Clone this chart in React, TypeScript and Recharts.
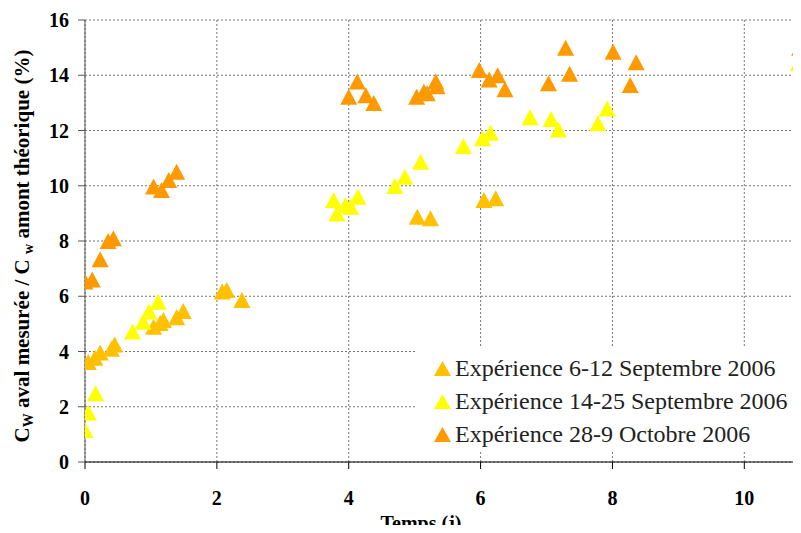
import {
  ScatterChart, Scatter, XAxis, YAxis, CartesianGrid, Legend,
} from "recharts";

// Expérience 6-12 Septembre 2006
const sept6Days = [0.05, 0.15, 0.23, 0.4, 0.45, 1.04, 1.14, 1.19, 1.39, 1.49, 2.08, 2.15, 2.38, 5.04, 5.24, 6.05, 6.23];
const sept6Ratio = [3.62, 3.77, 3.96, 4.1, 4.25, 4.9, 5.03, 5.14, 5.24, 5.47, 6.17, 6.23, 5.86, 8.88, 8.82, 9.48, 9.55];

// Expérience 14-25 Septembre 2006
const sept14Days = [0, 0.05, 0.16, 0.72, 0.88, 0.97, 1.11, 3.77, 3.82, 3.95, 4.03, 4.14, 4.7, 4.85, 5.09, 5.74, 6.03, 6.15, 6.75, 7.07, 7.18, 7.78, 7.92, 10.82];
const sept14Ratio = [1.16, 1.79, 2.49, 4.72, 5.08, 5.45, 5.8, 9.48, 9.0, 9.3, 9.24, 9.6, 9.99, 10.33, 10.87, 11.44, 11.72, 11.92, 12.48, 12.42, 12.04, 12.26, 12.8, 14.43];

// Expérience 28-9 Octobre 2006
const oct28Days = [0, 0.11, 0.23, 0.35, 0.43, 1.04, 1.16, 1.27, 1.39, 4.0, 4.13, 4.26, 4.38, 5.03, 5.14, 5.19, 5.32, 5.34, 5.98, 6.13, 6.26, 6.37, 7.03, 7.29, 7.35, 8.01, 8.27, 8.36, 10.84];
const oct28Ratio = [6.53, 6.61, 7.34, 8.0, 8.1, 9.97, 9.85, 10.21, 10.51, 13.22, 13.77, 13.28, 13.0, 13.22, 13.4, 13.35, 13.77, 13.6, 14.19, 13.85, 14.0, 13.49, 13.71, 15.0, 14.05, 14.85, 13.65, 14.47, 15.0];

const xTicks = [0, 2, 4, 6, 8, 10];
const yTicks = [0, 2, 4, 6, 8, 10, 12, 14, 16];

const zip = (xs: number[], ys: number[]) => xs.map((t, i) => ({ t, v: ys[i] }));

const series = [
  { name: "Expérience 6-12 Septembre 2006", color: "#FFC000", data: zip(sept6Days, sept6Ratio) },
  { name: "Expérience 14-25 Septembre 2006", color: "#FFFF00", data: zip(sept14Days, sept14Ratio) },
  { name: "Expérience 28-9 Octobre 2006", color: "#FF9900", data: zip(oct28Days, oct28Ratio) },
];

const serif = "'Liberation Serif', 'Times New Roman', serif";
const boldSerif = { fontFamily: serif, fontWeight: 700, fontSize: 20 };
const tickStyle = { fill: "#000", style: boldSerif };

const triangle = (color: string) => (p: any) => (
  <polygon
    points={`${p.cx},${p.cy - 8} ${p.cx + 8.5},${p.cy + 8} ${p.cx - 8.5},${p.cy + 8}`}
    fill={color}
  />
);

const YTitle = () => (
  <text
    transform="rotate(-90)"
    x={-246}
    y={29}
    textAnchor="middle"
    fill="#000"
    style={{ ...boldSerif, fontSize: 21 }}
  >
    <tspan>C</tspan>
    <tspan style={{ fontSize: 14 }} dy={4}>W</tspan>
    <tspan dy={-4}> aval mesurée / C </tspan>
    <tspan style={{ fontSize: 14 }} dy={4}>w</tspan>
    <tspan dy={-4}> amont théorique (%)</tspan>
  </text>
);

const XTitle = () => (
  <text x={421} y={530} textAnchor="middle" fill="#000" style={boldSerif}>
    Temps (j)
  </text>
);

const LegendBox = () => (
  <div style={{ background: "#fff", width: 384, height: 102, paddingTop: 4, boxSizing: "border-box" }}>
    {series.map((s) => (
      <div key={s.name} style={{ display: "flex", alignItems: "center", height: 33, fontFamily: serif, fontSize: 24, color: "#222" }}>
        <svg width={17} height={15} style={{ marginLeft: 17, marginRight: 4 }}>
          <polygon points="8.5,0 17,15 0,15" fill={s.color} />
        </svg>
        <span style={{ whiteSpace: "nowrap" }}>{s.name}</span>
      </div>
    ))}
  </div>
);

export default function App() {
  return (
    <div style={{ margin: -8, width: 801, height: 533, overflow: "hidden", background: "#fff" }}>
      <ScatterChart width={801} height={533} margin={{ top: 20, right: 0, bottom: 0, left: 0 }}>
        <CartesianGrid stroke="#777" strokeDasharray="2 2" />
        <XAxis
          type="number"
          dataKey="t"
          domain={[0, 10.86]}
          ticks={xTicks}
          allowDataOverflow
          height={71}
          tick={tickStyle}
          tickSize={7}
          tickMargin={22}
          stroke="#000"
          label={{ content: () => <XTitle /> }}
        />
        <YAxis
          type="number"
          dataKey="v"
          domain={[0, 16]}
          ticks={yTicks}
          width={85}
          tick={tickStyle}
          tickSize={7}
          tickMargin={9}
          stroke="#555"
          label={{ content: () => <YTitle /> }}
        />
        <Legend
          layout="vertical"
          align="center"
          verticalAlign="middle"
          content={() => <LegendBox />}
          wrapperStyle={{ left: 417, top: 348, width: 384, height: 102 }}
        />
        {series.map((s) => (
          <Scatter
            key={s.name}
            name={s.name}
            data={s.data}
            fill={s.color}
            shape={triangle(s.color)}
            isAnimationActive={false}
          />
        ))}
      </ScatterChart>
    </div>
  );
}
